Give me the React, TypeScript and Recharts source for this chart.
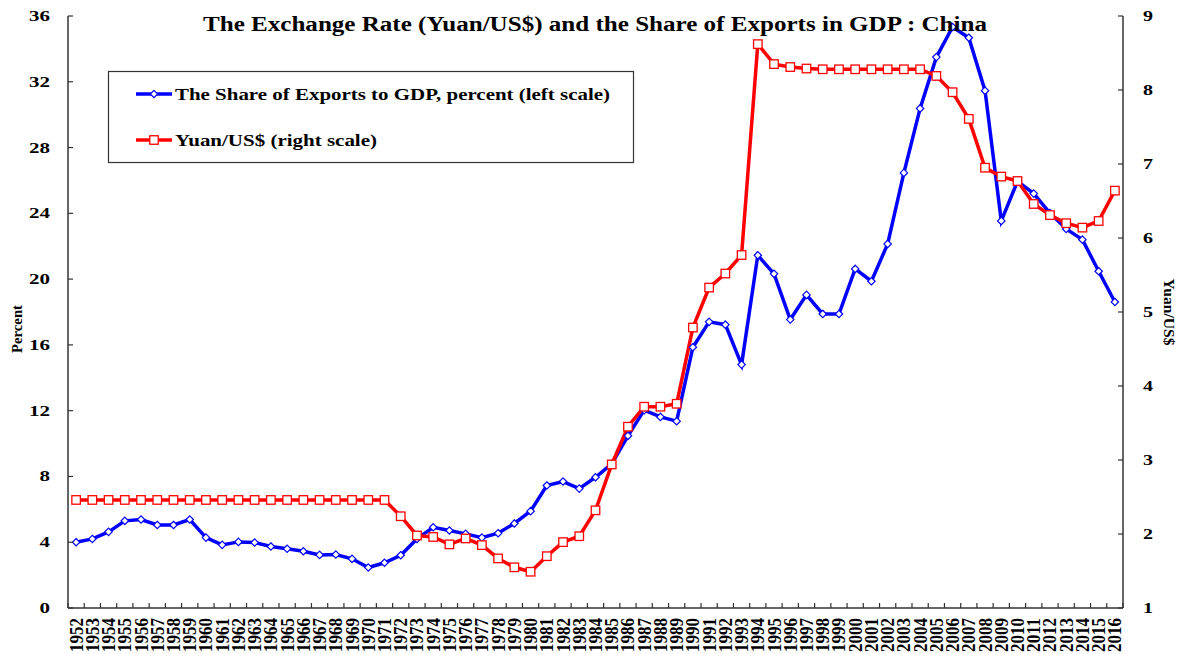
import React from 'react'
import { LineChart, Line, XAxis, YAxis } from 'recharts'

// Years on the category axis
const years = [
  '1952', '1953', '1954', '1955', '1956', '1957', '1958', '1959', '1960', '1961',
  '1962', '1963', '1964', '1965', '1966', '1967', '1968', '1969', '1970', '1971',
  '1972', '1973', '1974', '1975', '1976', '1977', '1978', '1979', '1980', '1981',
  '1982', '1983', '1984', '1985', '1986', '1987', '1988', '1989', '1990', '1991',
  '1992', '1993', '1994', '1995', '1996', '1997', '1998', '1999', '2000', '2001',
  '2002', '2003', '2004', '2005', '2006', '2007', '2008', '2009', '2010', '2011',
  '2012', '2013', '2014', '2015', '2016',
]

// Exports as % of GDP (left scale)
const exportShare = [
  4.0, 4.2, 4.63, 5.3, 5.38, 5.05, 5.05, 5.38, 4.28, 3.84,
  4.02, 3.98, 3.74, 3.6, 3.45, 3.23, 3.25, 2.99, 2.46, 2.75,
  3.21, 4.2, 4.91, 4.71, 4.51, 4.28, 4.55, 5.14, 5.89, 7.45,
  7.69, 7.26, 7.95, 8.77, 10.47, 12.03, 11.62, 11.36, 15.86, 17.4,
  17.23, 14.8, 21.45, 20.32, 17.54, 19.04, 17.88, 17.88, 20.62, 19.87,
  22.14, 26.46, 30.38, 33.5, 35.33, 34.68, 31.46, 23.54, 25.95, 25.2,
  24.02, 23.05, 22.4, 20.48, 18.61,
]

// Yuan per US$ (right scale)
const yuanPerUsd = [
  2.46, 2.46, 2.46, 2.46, 2.46, 2.46, 2.46, 2.46, 2.46, 2.46,
  2.46, 2.46, 2.46, 2.46, 2.46, 2.46, 2.46, 2.46, 2.46, 2.46,
  2.24, 1.98, 1.96, 1.86, 1.94, 1.85, 1.67, 1.55, 1.49, 1.7,
  1.89, 1.97, 2.32, 2.94, 3.45, 3.72, 3.72, 3.76, 4.79, 5.33,
  5.52, 5.77, 8.62, 8.35, 8.31, 8.29, 8.28, 8.28, 8.28, 8.28,
  8.28, 8.28, 8.28, 8.19, 7.97, 7.61, 6.95, 6.83, 6.77, 6.46,
  6.31, 6.2, 6.14, 6.23, 6.64,
]

const leftTicks = [0, 4, 8, 12, 16, 20, 24, 28, 32, 36]
const rightTicks = [1, 2, 3, 4, 5, 6, 7, 8, 9]

const data = years.map((year, i) => ({
  year,
  exports: exportShare[i],
  rate: yuanPerUsd[i],
}))

const W = 1184
const H = 654
const LEFT_W = 68
const RIGHT_W = 61
const X_H = 46
const TOP = 16
const PLOT_W = W - LEFT_W - RIGHT_W
const HALF = PLOT_W / years.length / 2

const FONT = '"Liberation Serif", "Times New Roman", serif'
const AXIS = '#333'
const BLUE = '#0000ff'
const RED = '#ff0000'

const XTick = (props: any) => {
  const { x, y, payload, index } = props
  const base = y - 10
  return (
    <g>
      <line x1={x - HALF} x2={x - HALF} y1={base} y2={base - 5} stroke={AXIS} strokeWidth={1.2} />
      {index === years.length - 1 && (
        <line x1={x + HALF} x2={x + HALF} y1={base} y2={base - 5} stroke={AXIS} strokeWidth={1.2} />
      )}
      <text
        transform={`translate(${x + 6.5},${y}) rotate(-90)`}
        textAnchor="end"
        fontFamily={FONT}
        fontWeight="bold"
        fontSize={19}
        textLength={34}
        lengthAdjust="spacingAndGlyphs"
        fill="#000"
      >
        {payload.value}
      </text>
    </g>
  )
}

const LeftTick = (props: any) => {
  const { x, y, payload } = props
  const s = String(payload.value)
  return (
    <g>
      <line x1={x + 18} x2={x + 23} y1={y} y2={y} stroke={AXIS} strokeWidth={1.2} />
      <text
        x={x}
        y={y + 5}
        textAnchor="end"
        fontFamily={FONT}
        fontWeight="bold"
        fontSize={15}
        textLength={10.5 * s.length}
        lengthAdjust="spacingAndGlyphs"
        fill="#000"
      >
        {s}
      </text>
    </g>
  )
}

const RightTick = (props: any) => {
  const { x, y, payload } = props
  const s = String(payload.value)
  return (
    <g>
      <line x1={x - 20} x2={x - 25} y1={y} y2={y} stroke={AXIS} strokeWidth={1.2} />
      <text
        x={x}
        y={y + 5}
        textAnchor="start"
        fontFamily={FONT}
        fontWeight="bold"
        fontSize={15}
        textLength={10 * s.length}
        lengthAdjust="spacingAndGlyphs"
        fill="#000"
      >
        {s}
      </text>
    </g>
  )
}

const diamondDot = (props: any) => {
  const { cx, cy, index } = props
  const r = 3.7
  return (
    <polygon
      key={`d-${index}`}
      points={`${cx},${cy - r} ${cx + r},${cy} ${cx},${cy + r} ${cx - r},${cy}`}
      fill="#fff"
      stroke={BLUE}
      strokeWidth={1.2}
    />
  )
}

const squareDot = (props: any) => {
  const { cx, cy, index } = props
  const s = 8.5
  return (
    <rect
      key={`s-${index}`}
      x={cx - s / 2}
      y={cy - s / 2}
      width={s}
      height={s}
      fill="#fff"
      stroke={RED}
      strokeWidth={1.3}
    />
  )
}

// Title and legend box drawn over the chart
const Overlay = () => (
  <svg width={W} height={H} style={{ position: 'absolute', left: 0, top: 0, pointerEvents: 'none' }}>
    <text
      x={595}
      y={31}
      textAnchor="middle"
      fontFamily={FONT}
      fontWeight="bold"
      fontSize={20}
      textLength={784}
      lengthAdjust="spacingAndGlyphs"
      fill="#000"
    >
      The Exchange Rate (Yuan/US$) and the Share of Exports in GDP : China
    </text>
    <rect x={108.5} y={71.5} width={525} height={91} fill="#fff" stroke="#333" strokeWidth={1.2} />
    <line x1={136} x2={172} y1={94} y2={94} stroke={BLUE} strokeWidth={3.5} />
    <polygon points="154,90.3 157.7,94 154,97.7 150.3,94" fill="#fff" stroke={BLUE} strokeWidth={1.2} />
    <text
      x={175}
      y={100}
      fontFamily={FONT}
      fontWeight="bold"
      fontSize={17}
      textLength={435}
      lengthAdjust="spacingAndGlyphs"
      fill="#000"
    >
      The Share of Exports to GDP, percent (left scale)
    </text>
    <line x1={136} x2={172} y1={140} y2={140} stroke={RED} strokeWidth={3.5} />
    <rect x={149.75} y={135.75} width={8.5} height={8.5} fill="#fff" stroke={RED} strokeWidth={1.3} />
    <text
      x={175}
      y={145.5}
      fontFamily={FONT}
      fontWeight="bold"
      fontSize={17}
      textLength={202}
      lengthAdjust="spacingAndGlyphs"
      fill="#000"
    >
      Yuan/US$ (right scale)
    </text>
  </svg>
)

export default function App() {
  return (
    <div style={{ position: 'absolute', left: 0, top: 0, width: W, height: H, background: '#fff' }}>
      <LineChart width={W} height={H} data={data} margin={{ top: TOP, right: 0, bottom: 0, left: 0 }}>
        <XAxis
          dataKey="year"
          height={X_H}
          interval={0}
          padding={{ left: HALF, right: HALF }}
          tickLine={false}
          tickSize={0}
          tickMargin={10}
          tick={<XTick />}
          axisLine={{ stroke: AXIS, strokeWidth: 1.5 }}
        />
        <YAxis
          yAxisId="left"
          width={LEFT_W}
          domain={[0, 36]}
          ticks={leftTicks}
          interval={0}
          tickLine={false}
          tickSize={0}
          tickMargin={18}
          tick={<LeftTick />}
          axisLine={{ stroke: AXIS, strokeWidth: 1.5 }}
          label={{
            content: (p: any) => {
              const vb = p.viewBox
              const cy = vb.y + vb.height / 2 + 17
              return (
                <text
                  transform={`translate(17,${cy}) rotate(-90)`}
                  textAnchor="middle"
                  dominantBaseline="central"
                  fontFamily={FONT}
                  fontWeight="bold"
                  fontSize={15}
                  textLength={48}
                  lengthAdjust="spacingAndGlyphs"
                  fill="#000"
                >
                  Percent
                </text>
              )
            },
          }}
        />
        <YAxis
          yAxisId="right"
          orientation="right"
          width={RIGHT_W}
          domain={[1, 9]}
          ticks={rightTicks}
          interval={0}
          tickLine={false}
          tickSize={0}
          tickMargin={20}
          tick={<RightTick />}
          axisLine={{ stroke: AXIS, strokeWidth: 1.5 }}
          label={{
            content: (p: any) => {
              const vb = p.viewBox
              const cy = vb.y + vb.height / 2
              return (
                <text
                  transform={`translate(1169,${cy}) rotate(90)`}
                  textAnchor="middle"
                  dominantBaseline="central"
                  fontFamily={FONT}
                  fontWeight="bold"
                  fontSize={15}
                  textLength={67}
                  lengthAdjust="spacingAndGlyphs"
                  fill="#000"
                >
                  Yuan/US$
                </text>
              )
            },
          }}
        />
        <Line
          yAxisId="left"
          dataKey="exports"
          name="The Share of Exports to GDP, percent (left scale)"
          type="linear"
          stroke={BLUE}
          strokeWidth={3.5}
          dot={diamondDot}
          activeDot={false}
          isAnimationActive={false}
        />
        <Line
          yAxisId="right"
          dataKey="rate"
          name="Yuan/US$ (right scale)"
          type="linear"
          stroke={RED}
          strokeWidth={3.5}
          dot={squareDot}
          activeDot={false}
          isAnimationActive={false}
        />
      </LineChart>
      <Overlay />
    </div>
  )
}
